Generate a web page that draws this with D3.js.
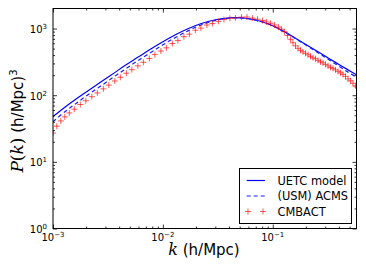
<!DOCTYPE html>
<html><head><meta charset="utf-8">
<script src="https://cdn.jsdelivr.net/npm/d3@7"></script>
<style>body{margin:0;background:#fff} svg{display:block} text{font-family:"DejaVu Sans",sans-serif}</style>
</head><body><svg id="c" width="366" height="274"></svg>
<script>
// ---- data ----
const kModel = [0.001, 0.00129, 0.0016, 0.00207, 0.0027, 0.00351, 0.00455, 0.00591, 0.00769, 0.01, 0.013, 0.0169, 0.022, 0.0301, 0.0412, 0.0564, 0.0773, 0.1, 0.1306, 0.1695, 0.2203, 0.2864, 0.3724, 0.4842, 0.578];
const pUETC = [47.7, 66.7, 86.5, 116, 156, 209, 281, 370, 488, 633, 807, 993, 1181, 1356, 1453, 1429, 1288, 1102, 880, 679, 523, 404, 311, 240, 202];
const pACMS = [40, 57, 74, 101, 136, 184, 247, 329, 434, 570, 734, 923, 1122, 1329, 1440, 1425, 1285, 1097, 874, 670, 512, 388, 294, 222, 186];
const kCMB = [0.001, 0.001083, 0.001178, 0.001281, 0.001407, 0.001563, 0.001772, 0.001989, 0.002256, 0.002532, 0.002871, 0.003223, 0.003654, 0.0041, 0.004651, 0.005221, 0.005921, 0.006644, 0.007534, 0.008455, 0.00959, 0.010762, 0.0122, 0.0137, 0.01553, 0.01743, 0.01977, 0.02218, 0.02516, 0.02823, 0.03201, 0.03594, 0.04075, 0.04574, 0.05187, 0.0582, 0.06533, 0.07257, 0.08056, 0.08762, 0.0953, 0.1036, 0.1127, 0.12, 0.1278, 0.1361, 0.1449, 0.1528, 0.161, 0.1697, 0.1788, 0.1884, 0.1986, 0.2093, 0.2206, 0.2324, 0.2449, 0.2581, 0.2719, 0.2866, 0.302, 0.3182, 0.3353, 0.3534, 0.3724, 0.3925, 0.4136, 0.4358, 0.4593, 0.484, 0.5101, 0.5375, 0.5664, 0.578];
const pCMB = [27.1, 34.3, 41.1, 47.3, 54.2, 61.7, 72.5, 82.5, 95, 108.2, 124.5, 141.8, 163.3, 185.9, 213.8, 241.5, 275.9, 311.6, 355.8, 406.4, 460.3, 513.6, 597.3, 659.9, 755.1, 823.9, 942.7, 1015, 1130, 1189, 1283, 1362, 1425, 1445, 1485, 1489, 1433, 1384, 1323, 1258, 1197, 1130, 1051, 979, 896, 787.5, 690.4, 611.7, 551, 505.6, 471.7, 448, 425.3, 403.6, 383.2, 363.9, 351.5, 333.6, 316.8, 306, 290.4, 275.8, 261.8, 252.9, 240, 228, 216.4, 205.5, 191.8, 175.8, 164.3, 150.8, 138.4, 133.3];
const seriesNames = ["UETC model", "(USM) ACMS", "CMBACT"];
const xMajor = [1e-3, 1e-2, 1e-1];
const xExp = ["\u22123", "\u22122", "\u22121"];
const yMajor = [1, 10, 100, 1000];
const yExp = ["0", "1", "2", "3"];

// ---- layout ----
const L = 53, R = 356.5, T = 8.5, B = 228.5;
const x = d3.scaleLog().domain([0.001, 0.578]).range([L, R]);
const y = d3.scaleLog().domain([1, 2000]).range([B, T]);
const svg = d3.select("#c");
svg.append("rect").attr("width", 366).attr("height", 274).attr("fill", "#fff");
svg.append("defs").append("clipPath").attr("id", "clip")
  .append("rect").attr("x", L).attr("y", T).attr("width", R - L).attr("height", B - T);
const plot = svg.append("g").attr("clip-path", "url(#clip)");

const mkLine = (ks) => d3.line().x((d, i) => x(ks[i])).y(d => y(d)).curve(d3.curveCatmullRom);
plot.append("path").attr("d", mkLine(kModel)(pUETC)).attr("fill", "none")
  .attr("stroke", "#0000ff").attr("stroke-width", 1.2);
plot.append("path").attr("d", mkLine(kModel)(pACMS)).attr("fill", "none")
  .attr("stroke", "#1a1aff").attr("stroke-width", 1.2).attr("stroke-dasharray", "4,3");
plot.selectAll(".pl").data(pCMB).enter().append("path")
  .attr("d", (d, i) => { const px = x(kCMB[i]), py = y(d); return `M${px - 3},${py}h6M${px},${py - 3}v6`; })
  .attr("stroke", "#ff0000").attr("stroke-opacity", 0.65).attr("stroke-width", 1).attr("fill", "none");

// ---- axes ----
const near = (v, arr) => arr.some(m => Math.abs(v / m - 1) < 1e-6);
const xMinor = x.ticks().filter(v => !near(v, xMajor) && v > 0.0011);
const yMinor = y.ticks().filter(v => !near(v, yMajor) && v < 1990);
function ax(gen, tr, vals, size) {
  const g = svg.append("g").attr("transform", tr).attr("color", "#000")
    .call(gen.tickValues(vals).tickSize(size).tickSizeOuter(0).tickFormat(""));
  g.select(".domain").remove();
  g.selectAll("line").attr("stroke-width", 0.8);
}
ax(d3.axisBottom(x), `translate(0,${B})`, xMajor, -4);
ax(d3.axisBottom(x), `translate(0,${B})`, xMinor, -2);
ax(d3.axisTop(x), `translate(0,${T})`, xMajor, -4);
ax(d3.axisTop(x), `translate(0,${T})`, xMinor, -2);
ax(d3.axisLeft(y), `translate(${L},0)`, yMajor, -4);
ax(d3.axisLeft(y), `translate(${L},0)`, yMinor, -2);
ax(d3.axisRight(y), `translate(${R},0)`, yMajor, -4);
ax(d3.axisRight(y), `translate(${R},0)`, yMinor, -2);

svg.append("rect").attr("x", L).attr("y", T).attr("width", R - L).attr("height", B - T)
  .attr("fill", "none").attr("stroke", "#000").attr("stroke-width", 1);

// tick labels
xMajor.forEach((v, i) => {
  const t = svg.append("text").attr("x", x(v)).attr("y", 241).attr("text-anchor", "middle").attr("fill", "#000");
  t.append("tspan").attr("font-size", 10).text("10");
  t.append("tspan").attr("font-size", 7).attr("dy", -4).text(xExp[i]);
});
yMajor.forEach((v, i) => {
  const t = svg.append("text").attr("x", 47).attr("y", y(v) + 4.3).attr("text-anchor", "end").attr("fill", "#000");
  t.append("tspan").attr("font-size", 10).text("10");
  t.append("tspan").attr("font-size", 7).attr("dy", -4).text(yExp[i]);
});

// axis titles
const xl = svg.append("text").attr("x", 204).attr("y", 254.5).attr("text-anchor", "middle").attr("font-size", 15).attr("fill", "#000");
xl.append("tspan").attr("font-family", "DejaVu Serif").attr("font-style", "italic").attr("font-size", 16).text("k");
xl.append("tspan").text(" (h/Mpc)");

const yl = svg.append("text").attr("transform", "translate(23,121) rotate(-90)").attr("text-anchor", "middle").attr("font-size", 15).attr("fill", "#000");
yl.append("tspan").attr("font-family", "DejaVu Serif").attr("font-style", "italic").attr("font-size", 17).text("P");
yl.append("tspan").attr("font-family", "DejaVu Serif").attr("font-size", 17).text("(");
yl.append("tspan").attr("font-family", "DejaVu Serif").attr("font-style", "italic").attr("font-size", 17).text("k");
yl.append("tspan").attr("font-family", "DejaVu Serif").attr("font-size", 17).text(")");
yl.append("tspan").text(" (h/Mpc)");
yl.append("tspan").attr("font-size", 10).attr("dy", -6).text("3");

// legend
const lg = svg.append("g");
lg.append("rect").attr("x", 239.5).attr("y", 168.5).attr("width", 112).attr("height", 55)
  .attr("fill", "#fff").attr("stroke", "#000").attr("stroke-width", 1);
const rows = [180.5, 196, 211.5];
lg.append("line").attr("x1", 246.7).attr("x2", 265).attr("y1", rows[0]).attr("y2", rows[0]).attr("stroke", "#0000ff").attr("stroke-width", 1.2);
lg.append("line").attr("x1", 246.7).attr("x2", 265).attr("y1", rows[1]).attr("y2", rows[1]).attr("stroke", "#1a1aff").attr("stroke-width", 1.2).attr("stroke-dasharray", "4,3");
[248, 263].forEach(px => lg.append("path").attr("d", `M${px - 3},${rows[2]}h6M${px},${rows[2] - 3}v6`).attr("stroke", "#ff0000").attr("stroke-opacity", 0.65).attr("stroke-width", 1));
seriesNames.forEach((n, i) => lg.append("text").attr("x", 277.5).attr("y", rows[i] + 4.1).attr("font-size", 11.4).attr("fill", "#000").text(n));
</script></body></html>
